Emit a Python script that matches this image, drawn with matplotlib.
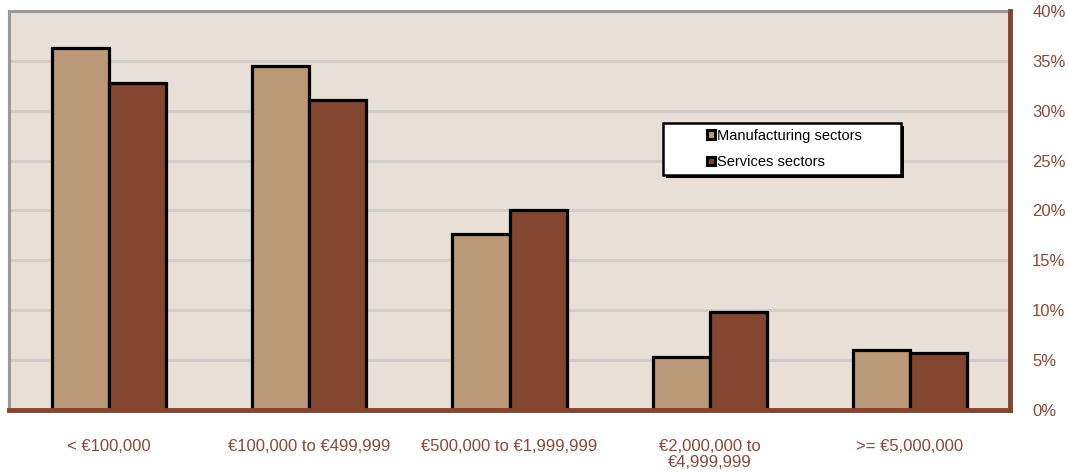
import matplotlib
import matplotlib.pyplot as plt
import numpy as np
from matplotlib.patches import Rectangle, Patch

matplotlib.use('agg')

categories = ['< €100,000', '€100,000 to €499,999', '€500,000 to €1,999,999',
              '€2,000,000 to\n€4,999,999', '>= €5,000,000']
manufacturing = [36.3, 34.5, 17.6, 5.3, 6.0]
services = [32.8, 31.1, 20.0, 9.8, 5.7]
y_ticks = [0, 5, 10, 15, 20, 25, 30, 35, 40]

brown = '#834430'
tan = '#BA9878'
text_col = '#8A4A36'

plt.rcParams['font.family'] = ['Liberation Sans', 'DejaVu Sans']

fig = plt.figure(figsize=(10.68, 4.75), dpi=100)
ax = fig.add_axes([9 / 1068, 1 - 410 / 475, 1001 / 1068, 399 / 475])
ax.set_facecolor('#E8E0D7')

x = np.arange(len(categories))
w = 0.285
ax.bar(x - w / 2, manufacturing, w, color=tan, edgecolor='black', linewidth=2.3,
       zorder=3, label='Manufacturing sectors')
ax.bar(x + w / 2, services, w, color=brown, edgecolor='black', linewidth=2.3,
       zorder=3, label='Services sectors')

ax.set_xlim(-0.5, len(categories) - 0.5)
ax.set_ylim(0, 40)

# gridlines
ax.set_yticks(y_ticks)
ax.yaxis.grid(True, color='#D2CDCA', linewidth=2.2, zorder=1)
ax.set_axisbelow(True)

# spines: gray left/top, brown right/bottom
for side in ['left', 'top']:
    ax.spines[side].set_color('#9A9A9A')
    ax.spines[side].set_linewidth(2.2)
for side in ['right', 'bottom']:
    ax.spines[side].set_color(brown)
    ax.spines[side].set_linewidth(3.5)
    ax.spines[side].set_zorder(4)

ax.yaxis.tick_right()
ax.set_yticklabels([f'{t}%' for t in y_ticks])
ax.tick_params(axis='y', length=0, pad=16, labelsize=12, labelcolor=text_col)
ax.set_xticks(x)
ax.set_xticklabels(categories, linespacing=1.05)
ax.tick_params(axis='x', length=0, pad=21, labelsize=12, labelcolor=text_col)

# legend box with shadow
lx0, ly0, lw, lh = 0.653, 0.588, 0.238, 0.132
ax.add_patch(Rectangle((lx0 + 0.003, ly0 - 0.007), lw, lh, transform=ax.transAxes,
                       facecolor='black', edgecolor='none', zorder=5))
ax.add_patch(Rectangle((lx0, ly0), lw, lh, transform=ax.transAxes,
                       facecolor='white', edgecolor='black', linewidth=1.8, zorder=6))
handles = [Patch(facecolor=tan, edgecolor='black', linewidth=2.2, label='Manufacturing sectors'),
           Patch(facecolor=brown, edgecolor='black', linewidth=2.2, label='Services sectors')]
leg = ax.legend(handles=handles, loc='upper left', bbox_to_anchor=(0.693, 0.716),
                frameon=False, fontsize=10.5, handlelength=0.55, handleheight=0.55,
                handletextpad=0.15, labelspacing=0.85, borderaxespad=0, borderpad=0.3)
leg.set_zorder(7)

fig.savefig('out.png', dpi=100)
